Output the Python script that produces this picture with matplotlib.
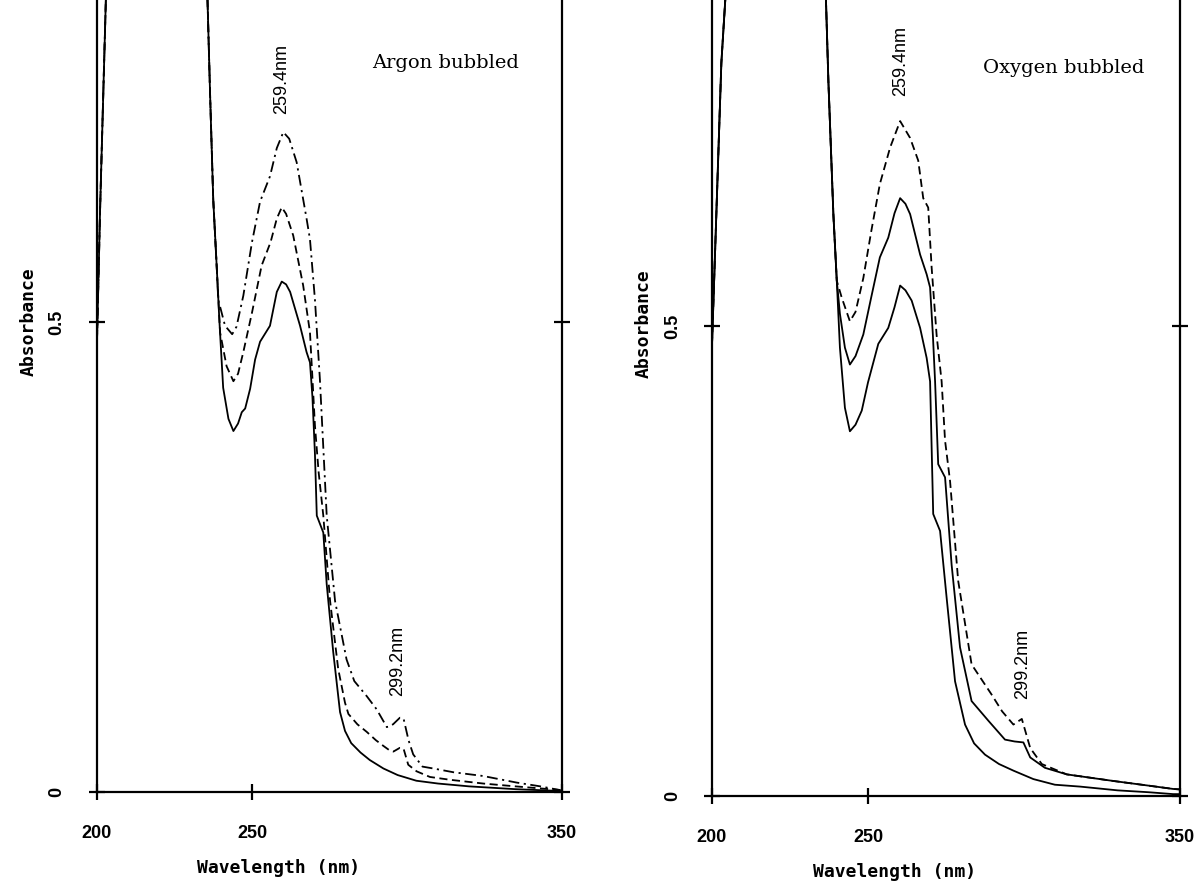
import matplotlib
matplotlib.use("Agg")
import matplotlib.pyplot as plt
from matplotlib import font_manager as fm

# ---------------- data ----------------
x_ticks = [200, 250, 350]
x_tick_labels = ["200", "250", "350"]
y_ticks = [0, 0.5]
y_tick_labels = ["0", "0.5"]

# Argon bubbled panel
ar_low_wl = [200, 201, 202, 203, 210, 230, 235.5, 236.5, 237.5, 238.6, 239.5, 240.7, 242.4, 244.0,
             245.5, 246.7, 247.8, 249.4, 251.0, 252.6, 255.8, 258.0, 259.6, 261.0, 262.3, 265.5,
             267.6, 268.7, 269.5, 270.3, 270.9, 273.0, 274.1, 276.2, 278.4, 280.0, 282.0, 285.0,
             288.0, 292.4, 297.0, 303.0, 310.0, 320.0, 335.0, 350.0]
ar_low_ab = [0.48, 0.62, 0.74, 0.86, 1.2, 1.2, 0.86, 0.74, 0.63, 0.56, 0.50, 0.43, 0.397, 0.384,
             0.392, 0.404, 0.408, 0.429, 0.46, 0.479, 0.496, 0.532, 0.543, 0.540, 0.532, 0.496,
             0.468, 0.457, 0.42, 0.36, 0.294, 0.276, 0.221, 0.149, 0.085, 0.065, 0.052, 0.042,
             0.034, 0.025, 0.018, 0.012, 0.009, 0.006, 0.003, 0.001]

ar_mid_wl = [200, 201, 202, 203, 210, 230, 235.5, 236.5, 237.5, 238.6, 239.7, 241.8, 244.0, 245.5,
             247.2, 250.0, 253.1, 256.0, 258.0, 259.6, 261.0, 263.3, 266.5, 268.7, 269.5, 270.3,
             271.5, 273.0, 275.2, 277.8, 280.0, 281.1, 284.0, 287.0, 290.0, 292.4, 294.5, 295.6,
             297.7, 298.9, 300.4, 303.1, 307.4, 313.9, 324.6, 335.0, 346.0, 350.0]
ar_mid_ab = [0.48, 0.62, 0.74, 0.86, 1.2, 1.2, 0.86, 0.74, 0.63, 0.56, 0.489, 0.453, 0.437, 0.445,
             0.468, 0.51, 0.560, 0.585, 0.610, 0.622, 0.615, 0.592, 0.539, 0.489, 0.44, 0.39,
             0.34, 0.294, 0.203, 0.131, 0.095, 0.083, 0.072, 0.064, 0.055, 0.049, 0.044, 0.043,
             0.047, 0.046, 0.029, 0.022, 0.016, 0.013, 0.009, 0.006, 0.003, 0.002]

ar_high_wl = [200, 201, 202, 203, 210, 230, 235.5, 236.5, 237.5, 238.6, 239.1, 241.3, 243.6, 245.0,
              247.2, 250.0, 252.6, 255.8, 258.0, 260.1, 262.0, 264.4, 267.6, 268.7, 270.3, 271.9,
              274.1, 276.8, 280.5, 283.0, 287.0, 290.2, 293.5, 295.5, 297.7, 298.9, 300.5, 302.0,
              305.0, 308.5, 315.0, 324.6, 335.4, 343.0, 349.4]
ar_high_ab = [0.48, 0.62, 0.74, 0.86, 1.2, 1.2, 0.86, 0.74, 0.63, 0.56, 0.524, 0.496, 0.487, 0.495,
              0.528, 0.585, 0.628, 0.655, 0.685, 0.702, 0.695, 0.670, 0.610, 0.588, 0.524, 0.439,
              0.294, 0.203, 0.141, 0.118, 0.102, 0.088, 0.069, 0.072, 0.079, 0.078, 0.055, 0.040,
              0.027, 0.025, 0.021, 0.017, 0.010, 0.006, 0.002]

# Oxygen bubbled panel
ox_low_wl = [200, 201, 202, 203, 204.5, 210, 230, 235.5, 236.5, 237.3, 238.9, 240.0, 241.0, 242.6,
             244.2, 246.0, 248.0, 250.0, 253.3, 256.5, 258.5, 260.3, 262.0, 264.0, 266.7, 268.8,
             269.9, 270.9, 273.1, 275.2, 277.9, 281.1, 284.0, 287.5, 292.0, 296.6, 303.0, 309.9,
             318.0, 330.0, 340.0, 347.8, 350.0]
ox_low_ab = [0.48, 0.58, 0.68, 0.78, 0.86, 1.2, 1.2, 0.95, 0.85, 0.761, 0.619, 0.548, 0.477, 0.413,
             0.388, 0.395, 0.410, 0.44, 0.481, 0.498, 0.52, 0.543, 0.538, 0.527, 0.498, 0.466,
             0.441, 0.300, 0.282, 0.211, 0.122, 0.076, 0.056, 0.044, 0.034, 0.027, 0.018, 0.012,
             0.010, 0.006, 0.004, 0.002, 0.002]

ox_mid_wl = [200, 201, 202, 203, 204.5, 210, 230, 235.5, 236.5, 237.3, 238.9, 240.0, 241.0, 242.6,
             244.2, 246.0, 248.5, 251.0, 253.8, 256.5, 258.5, 260.3, 262.0, 263.5, 266.7, 268.8,
             269.9, 270.8, 271.5, 272.5, 274.7, 276.8, 279.5, 283.2, 288.6, 293.9, 297.0, 299.8,
             302.0, 306.7, 313.7, 328.6, 340.0, 347.8, 350.0]
ox_mid_ab = [0.48, 0.58, 0.68, 0.78, 0.86, 1.2, 1.2, 0.95, 0.85, 0.761, 0.619, 0.548, 0.513, 0.477,
             0.459, 0.468, 0.491, 0.53, 0.573, 0.594, 0.62, 0.636, 0.630, 0.619, 0.576, 0.555,
             0.541, 0.49, 0.441, 0.353, 0.339, 0.246, 0.158, 0.101, 0.080, 0.060, 0.058, 0.057,
             0.041, 0.030, 0.023, 0.016, 0.011, 0.0075, 0.007]

ox_high_wl = [200, 201, 202, 203, 204.5, 210, 230, 235.5, 236.5, 237.3, 238.9, 240.0, 241.6, 244.2,
              246.0, 248.5, 251.0, 253.8, 257.1, 260.3, 263.5, 266.1, 267.7, 269.3, 270.4, 272.0,
              273.6, 274.7, 276.3, 278.9, 283.2, 289.6, 293.0, 296.6, 299.3, 302.0, 305.7, 313.7,
              328.6, 340.0, 347.8, 350.0]
ox_high_ab = [0.48, 0.58, 0.68, 0.78, 0.86, 1.2, 1.2, 0.95, 0.85, 0.761, 0.619, 0.548, 0.530, 0.505,
              0.515, 0.551, 0.60, 0.651, 0.690, 0.718, 0.700, 0.676, 0.636, 0.626, 0.562, 0.49,
              0.441, 0.378, 0.335, 0.229, 0.140, 0.108, 0.09, 0.076, 0.082, 0.051, 0.034, 0.023,
              0.016, 0.011, 0.0075, 0.007]

peak_labels = ["259.4nm", "299.2nm"]
panel_titles = ["Argon bubbled", "Oxygen bubbled"]

# ---------------- fonts ----------------
names = {f.name for f in fm.fontManager.ttflist}
tick_font = "Liberation Sans Narrow" if "Liberation Sans Narrow" in names else "Liberation Sans"
mono_font = "DejaVu Sans Mono"

SOLID = "-"
DASH = (0, (4.5, 2.5))
DASHDOT = (0, (6, 2.5, 1.2, 2.5))

fig = plt.figure(figsize=(11.94, 8.93), dpi=100)

panels = [
    dict(rect=[97 / 1194, 101 / 893, 465 / 1194, 792 / 893], ytop=792 / 940,
         series=[(ar_low_wl, ar_low_ab, SOLID), (ar_mid_wl, ar_mid_ab, DASH),
                 (ar_high_wl, ar_high_ab, DASHDOT)],
         title=panel_titles[0], title_xy=(0.75, 0.92),
         p1=(259.4, 0.758), p2=(296.9, 0.139)),
    dict(rect=[712 / 1194, 97 / 893, 468 / 1194, 796 / 893], ytop=796 / 940,
         series=[(ox_low_wl, ox_low_ab, SOLID), (ox_mid_wl, ox_mid_ab, SOLID),
                 (ox_high_wl, ox_high_ab, DASH)],
         title=panel_titles[1], title_xy=(0.752, 0.915),
         p1=(260.4, 0.782), p2=(299.6, 0.141)),
]

for p in panels:
    ax = fig.add_axes(p["rect"])
    for wl, ab, ls in p["series"]:
        ax.plot(wl, ab, color="black", lw=1.3, linestyle=ls)
    ax.set_xlim(200, 350)
    ax.set_ylim(0, p["ytop"])
    ax.spines["top"].set_visible(False)
    for s in ["left", "right", "bottom"]:
        ax.spines[s].set_linewidth(1.6)
    ax.set_xticks(x_ticks)
    ax.set_xticklabels(x_tick_labels, fontfamily=tick_font, fontweight="bold", fontsize=13)
    ax.set_yticks(y_ticks)
    ax.set_yticklabels(y_tick_labels, rotation=90, va="center", fontfamily=tick_font,
                       fontweight="bold", fontsize=13)
    ax.tick_params(axis="x", direction="inout", length=11, width=1.6, pad=18)
    ax.tick_params(axis="y", direction="inout", length=11, width=1.6, pad=17,
                   right=True, labelright=False)
    ax.set_xlabel("Wavelength (nm)", fontfamily=mono_font, fontweight="bold", fontsize=13)
    ax.xaxis.set_label_coords(0.39, -0.084)
    ax.set_ylabel("Absorbance", fontfamily=mono_font, fontweight="bold", fontsize=13)
    ax.yaxis.set_label_coords(-0.127, 0.594)
    ax.text(*p["title_xy"], p["title"], transform=ax.transAxes, ha="center", va="center",
            fontfamily="DejaVu Serif", fontsize=14)
    ax.text(*p["p1"], peak_labels[0], rotation=90, ha="center", va="center",
            fontfamily="Liberation Sans", fontsize=13)
    ax.text(*p["p2"], peak_labels[1], rotation=90, ha="center", va="center",
            fontfamily="Liberation Sans", fontsize=13)

fig.savefig("out.png", dpi=100)
